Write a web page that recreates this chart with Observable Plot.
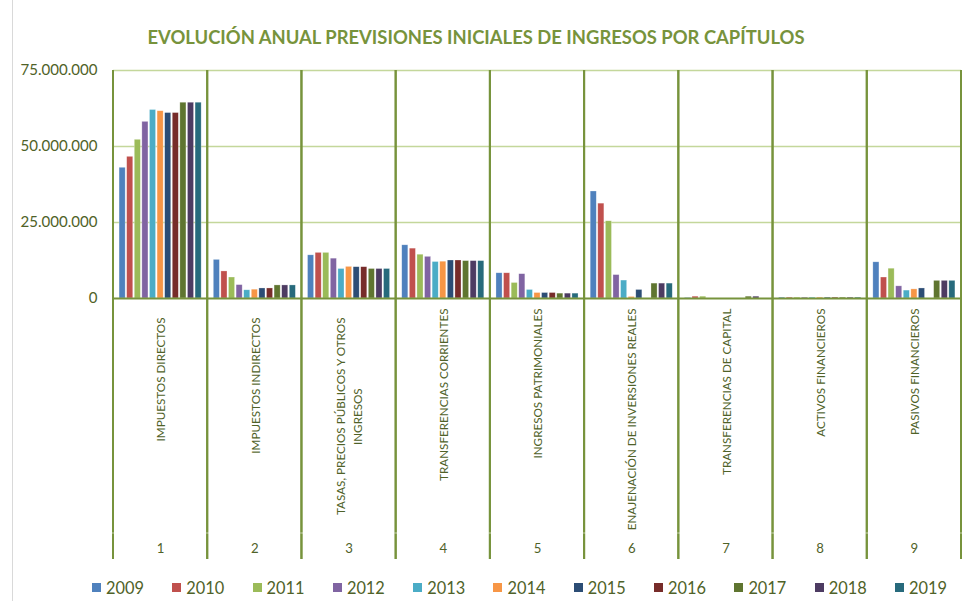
<!DOCTYPE html>
<html>
<head>
<meta charset="utf-8">
<script src="https://cdn.jsdelivr.net/npm/d3@7"></script>
<script src="https://cdn.jsdelivr.net/npm/@observablehq/plot@0.6"></script>
<style>
  body { margin: 0; background: #ffffff; }
  #wrap { position: relative; width: 966px; height: 601px; overflow: hidden; font-family: Lato, "Open Sans", sans-serif; background: #fff; }
  #border { position: absolute; left: 12px; top: 0; width: 1px; height: 601px; background: #d9d9d9; }
  #title { position: absolute; left: 0; width: 952px; top: 37px; transform: translateY(-50%); text-align: center; font-weight: 700; color: #77933c; line-height: 1; white-space: nowrap; }
  #chart { position: absolute; left: 0; top: 60px; }
  #legend { position: absolute; left: 92px; top: 577px; height: 20px; display: flex; align-items: center; }
  .item { display: flex; align-items: center; width: 80.3px; color: #4f6228; }
  .sw { width: 9px; height: 9px; margin-right: 5px; flex: none; }
</style>
</head>
<body>
<div id="wrap">
  <div id="border"></div>
  <div id="title"></div>
  <div id="chart"></div>
  <div id="legend"></div>
</div>
<script>
const titleText = "EVOLUCIÓN ANUAL PREVISIONES INICIALES DE INGRESOS POR CAPÍTULOS";
const categories = ["1", "2", "3", "4", "5", "6", "7", "8", "9"];
const categoryLabels = [
  ["IMPUESTOS DIRECTOS"],
  ["IMPUESTOS INDIRECTOS"],
  ["TASAS, PRECIOS PÚBLICOS Y OTROS", "INGRESOS"],
  ["TRANSFERENCIAS CORRIENTES"],
  ["INGRESOS PATRIMONIALES"],
  ["ENAJENACIÓN DE INVERSIONES REALES"],
  ["TRANSFERENCIAS DE CAPITAL"],
  ["ACTIVOS FINANCIEROS"],
  ["PASIVOS FINANCIEROS"]
];
const years = ["2009", "2010", "2011", "2012", "2013", "2014", "2015", "2016", "2017", "2018", "2019"];
const yTicks = [0, 25000000, 50000000, 75000000];

// values per year, one per category 1..9 (euros)
const v2009 = [43000000, 12700000, 14200000, 17500000, 8300000, 35200000, 200000, 300000, 11900000];
const v2010 = [46600000, 8900000, 15000000, 16400000, 8300000, 31200000, 600000, 300000, 6900000];
const v2011 = [52200000, 6900000, 15000000, 14400000, 5100000, 25400000, 600000, 300000, 9800000];
const v2012 = [58100000, 4400000, 13100000, 13700000, 8000000, 7700000, 0, 300000, 4000000];
const v2013 = [62000000, 2700000, 9700000, 12000000, 2800000, 5900000, 0, 300000, 2600000];
const v2014 = [61600000, 2900000, 10400000, 12100000, 1800000, 500000, 0, 300000, 3000000];
const v2015 = [61000000, 3300000, 10300000, 12500000, 1800000, 2800000, 0, 300000, 3300000];
const v2016 = [61000000, 3300000, 10300000, 12500000, 1800000, 0, 0, 300000, 0];
const v2017 = [64400000, 4300000, 9700000, 12300000, 1600000, 4900000, 600000, 300000, 5800000];
const v2018 = [64400000, 4300000, 9700000, 12300000, 1600000, 4900000, 600000, 300000, 5800000];
const v2019 = [64400000, 4300000, 9700000, 12300000, 1600000, 4900000, 0, 300000, 5800000];

const series = [v2009, v2010, v2011, v2012, v2013, v2014, v2015, v2016, v2017, v2018, v2019];
const colors = ["#4f81bd", "#c0504d", "#9bbb59", "#8064a2", "#4bacc6", "#f79646", "#2c4d75", "#772c2a", "#5f7530", "#4d3b62", "#276a7c"];

const data = [];
years.forEach((yr, j) => categories.forEach((c, i) => data.push({cat: c, year: yr, value: series[j][i]})));

const labelRows = [];
categories.forEach((c, i) => categoryLabels[i].forEach((t, k) => labelRows.push({cat: c, text: t, line: k, n: categoryLabels[i].length, idx: i})));

// font fitting helpers
const FAMILY = "Lato";
const ctx = document.createElement("canvas").getContext("2d");
function measure(text, weight, size) { ctx.font = `${weight} ${size}px ${FAMILY}`; return ctx.measureText(text).width; }
function fit(text, weight, target) { return 100 * target / measure(text, weight, 100); }

const titleSize = fit(titleText, 700, 659);
const labelSize = fit("ENAJENACIÓN DE INVERSIONES REALES", 400, 222);
const tickSize = fit("75.000.000", 400, 77);
const legendSize = fit("2009", 400, 38);

const title = document.getElementById("title");
title.textContent = titleText;
title.style.fontSize = titleSize + "px";

const fmt = d => d3.format(",")(d).replace(/,/g, ".");

const textColor = "#4f6228";
const axisGreen = "#77933c";

const separators = (index, scales, values, dims) => {
  const g = d3.create("svg:g");
  const x0 = dims.marginLeft, x1 = dims.width - dims.marginRight;
  for (const x of [x0, x1]) {
    g.append("line").attr("x1", x).attr("x2", x).attr("y1", dims.marginTop).attr("y2", 499)
      .attr("stroke", axisGreen).attr("stroke-width", 2);
  }
  g.append("line").attr("x1", x0 - 1).attr("x2", x1 + 1).attr("y1", 473).attr("y2", 473)
    .attr("stroke", "#ffffff").attr("stroke-opacity", 0.55).attr("stroke-width", 1);
  return g.node();
};

const line1Len = measure(categoryLabels[2][0], 400, labelSize);

const chart = Plot.plot({
  width: 966,
  height: 505,
  marginLeft: 113,
  marginRight: 5,
  marginTop: 10,
  marginBottom: 267,
  fx: {domain: categories, padding: 0, round: false, axis: null, label: null},
  x: {domain: years, paddingInner: 0.2, paddingOuter: 0.8, round: false, axis: null, label: null},
  y: {domain: [0, 75000000], axis: null, label: null},
  color: {domain: years, range: colors},
  style: {fontFamily: FAMILY, color: textColor, background: "transparent", overflow: "visible"},
  marks: [
    Plot.ruleY([25000000, 50000000, 75000000], {stroke: "#c4d79b", strokeWidth: 1.3}),
    Plot.barY(data, {filter: d => d.value > 0, fx: "cat", x: "year", y: "value", fill: "year", stroke: "#ffffff", strokeOpacity: 0.45, strokeWidth: 0.6}),
    Plot.ruleY([0], {stroke: axisGreen, strokeWidth: 2}),
    separators,
    Plot.axisY({ticks: yTicks, tickFormat: fmt, tickSize: 0, tickPadding: 16, fontSize: tickSize, fill: textColor, label: null}),
    // single-line labels, groups 1-2
    Plot.text(labelRows, {filter: d => d.n === 1 && d.idx < 3, fx: "cat", text: "text", frameAnchor: "bottom", rotate: -90, textAnchor: "end", lineAnchor: "middle", dy: 19, dx: 1, fontSize: labelSize, fill: textColor}),
    // single-line labels, groups 4-9
    Plot.text(labelRows, {filter: d => d.n === 1 && d.idx >= 3, fx: "cat", text: "text", frameAnchor: "bottom", rotate: -90, textAnchor: "end", lineAnchor: "middle", dy: 10, dx: 1, fontSize: labelSize, fill: textColor}),
    // two-line label: first line
    Plot.text(labelRows, {filter: d => d.n === 2 && d.line === 0, fx: "cat", text: "text", frameAnchor: "bottom", rotate: -90, textAnchor: "end", lineAnchor: "middle", dy: 19, dx: -8, fontSize: labelSize, fill: textColor}),
    // two-line label: second line, centred on the first
    Plot.text(labelRows, {filter: d => d.n === 2 && d.line === 1, fx: "cat", text: "text", frameAnchor: "bottom", rotate: -90, textAnchor: "middle", lineAnchor: "middle", dy: 19 + line1Len / 2, dx: 9, fontSize: labelSize, fill: textColor}),
    // category numbers
    Plot.text(categories, {fx: d => d, text: d => d, frameAnchor: "bottom", dy: 254, fontSize: labelSize + 1.5, fill: textColor})
  ]
});
document.getElementById("chart").appendChild(chart);

const legend = document.getElementById("legend");
years.forEach((yr, j) => {
  const it = document.createElement("div");
  it.className = "item";
  it.style.fontSize = legendSize + "px";
  const sw = document.createElement("div");
  sw.className = "sw";
  sw.style.background = colors[j];
  const lb = document.createElement("span");
  lb.textContent = yr;
  it.appendChild(sw);
  it.appendChild(lb);
  legend.appendChild(it);
});
</script>
</body>
</html>
